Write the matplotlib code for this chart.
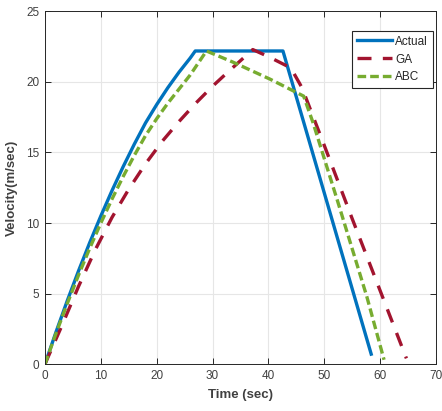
import numpy as np
import matplotlib
matplotlib.use("Agg")
import matplotlib.pyplot as plt

# velocity profiles
t_actual = [0, 2, 4, 6, 8, 10, 12, 14, 16, 18, 20, 22, 24, 26, 26.9, 42.6, 58.4]
v_actual = [0, 2.3, 4.5, 6.6, 8.6, 10.5, 12.3, 14.0, 15.6, 17.1, 18.4, 19.6, 20.7,
            21.7, 22.2, 22.2, 0.7]

t_ga = [0, 3, 6, 9, 12, 15, 18, 21, 24, 27, 30, 33, 37.2, 40, 44, 46, 50, 55, 60, 64.7]
v_ga = [0, 2.7, 5.5, 8.1, 10.4, 12.4, 14.2, 15.8, 17.2, 18.5, 19.7, 20.8, 22.3,
        21.8, 21.0, 19.6, 15.5, 10.3, 5.2, 0.4]

t_abc = [0, 2, 4, 6, 8, 10, 12, 14, 16, 18, 20, 22, 24, 26, 28.9, 33.7, 40.3, 46.3,
         48, 52.5, 57.6, 60.7]
v_abc = [0, 2.2, 4.3, 6.3, 8.2, 10.0, 11.7, 13.3, 14.8, 16.2, 17.4, 18.5, 19.5, 20.5,
         22.2, 21.4, 20.2, 19.0, 17.1, 11.4, 4.8, 0.3]

plt.rcParams['font.family'] = ['Liberation Sans', 'DejaVu Sans']
txt = '#404040'

fig = plt.figure(figsize=(4.42, 4.11), dpi=100)
ax = fig.add_axes([45/442, 47/411, 391/442, 352.5/411])

ax.plot(t_actual, v_actual, color='#0072BD', lw=2.4, label='Actual')
ax.plot(t_ga, v_ga, color='#A2142F', lw=2.4, ls=(0, (4.2, 3.4)), label='GA')
ax.plot(t_abc, v_abc, color='#77AC30', lw=2.4, ls=(0, (2.6, 1.2)), label='ABC')

ax.set_xlim(0, 70)
ax.set_ylim(0, 25)
ax.set_xticks(range(0, 71, 10))
ax.set_yticks(range(0, 26, 5))
ax.grid(color='#e6e6e6', lw=0.8)
ax.set_axisbelow(True)
ax.tick_params(direction='in', top=True, right=True, length=4, width=0.7,
               colors='#262626', labelcolor=txt, labelsize=8.5, pad=4)
for s in ax.spines.values():
    s.set_color('#262626')
    s.set_linewidth(0.7)

ax.set_xlabel('Time (sec)', fontsize=9.5, fontweight='bold', color=txt, labelpad=5)
ax.set_ylabel('Velocity(m/sec)', fontsize=9.5, fontweight='bold', color=txt, labelpad=6)

leg = ax.legend(loc='upper right', bbox_to_anchor=(0.992, 0.945), borderaxespad=0,
                fontsize=8.5, fancybox=False, framealpha=1, edgecolor='#262626',
                handlelength=3.0, handletextpad=0.25, borderpad=0.4, labelspacing=0.5)
leg.get_frame().set_linewidth(0.8)
for t in leg.get_texts():
    t.set_color('#262626')

fig.savefig('out.png', dpi=100)
